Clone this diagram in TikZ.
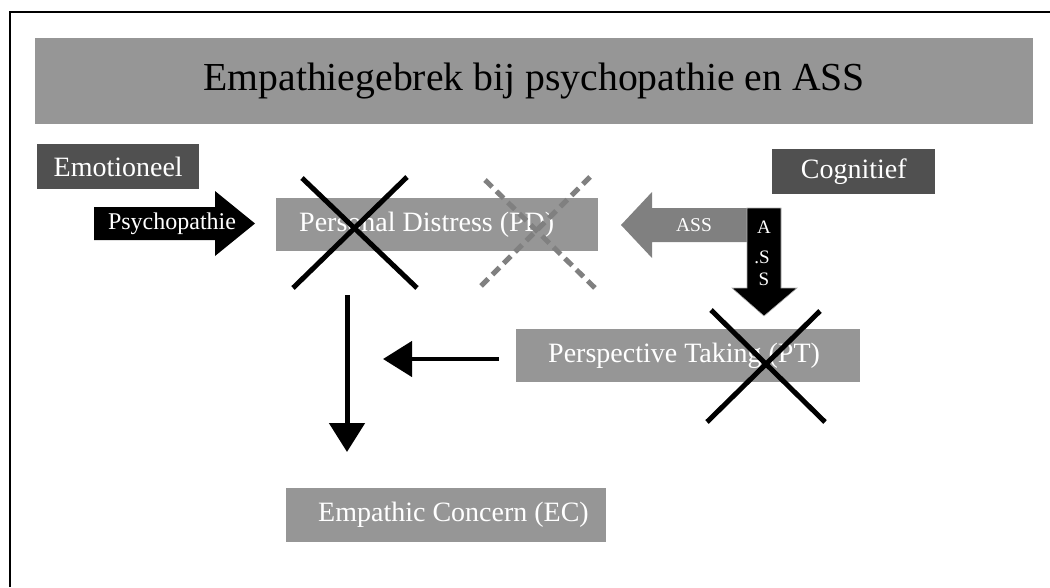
\documentclass[tikz,border=0pt]{standalone}
\usepackage{fontspec}
\setmainfont{Liberation Serif}
\usetikzlibrary{arrows.meta}
\definecolor{boxgray}{RGB}{150,150,150}
\definecolor{darkbox}{RGB}{80,80,80}
\definecolor{midgray}{RGB}{128,128,128}
\tikzset{
  graybox/.style={fill=boxgray, text=white, inner sep=0pt, anchor=north west},
  darkboxst/.style={fill=darkbox, text=white, inner sep=0pt, anchor=north west},
  crossline/.style={line width=5pt, black},
  dashcross/.style={line width=5pt, midgray, dash pattern=on 10pt off 6pt},
  flowarrow/.style={line width=5pt, -{Triangle[length=29pt,width=35pt]}},
  lbl/.style={text=white, inner sep=0pt},
}
\begin{document}
\begin{tikzpicture}[x=1pt,y=-1pt]
\useasboundingbox (0,0) rectangle (1050,587);
% frame
\draw[line width=2pt] (10,587) -- (10,12) -- (1051,12);
% title banner
\node[graybox, minimum width=998pt, minimum height=86pt, text=black,
  font=\fontsize{39.7}{44}\selectfont] (title) at (35,38) {Empathiegebrek bij psychopathie en ASS};
% category boxes
\node[darkboxst, minimum width=162pt, minimum height=45pt,
  font=\fontsize{28}{32}\selectfont] (emo) at (37,144) {Emotioneel};
\node[darkboxst, minimum width=163pt, minimum height=45pt,
  font=\fontsize{28}{32}\selectfont] (cog) at (772,149) {Cognitief};
% main boxes
\node[graybox, minimum height=53pt, font=\fontsize{28}{32}\selectfont]
  (pd) at (276,198) {\makebox[322pt][l]{\hspace*{23pt}Personal Distress (PD)}};
\node[graybox, minimum height=53pt, font=\fontsize{28}{32}\selectfont]
  (pt) at (516,329) {\makebox[344pt][l]{\hspace*{32pt}Perspective Taking (PT)}};
\node[graybox, minimum height=54pt, font=\fontsize{28}{32}\selectfont]
  (ec) at (286,488) {\makebox[320pt][l]{\hspace*{32pt}Empathic Concern (EC)}};
% Psychopathie block arrow
\fill[black] (94,207) -- (215,207) -- (215,191) -- (255,223.5) -- (215,256) -- (215,240) -- (94,240) -- cycle;
\node[lbl, font=\fontsize{24}{28}\selectfont] (psy) at (172,224) {Psychopathie};
% ASS gray block arrow
\fill[midgray] (747,208) -- (652,208) -- (652,192) -- (621,225) -- (652,258) -- (652,242) -- (747,242) -- cycle;
\node[lbl, font=\fontsize{19.5}{22}\selectfont] (assh) at (694,225) {ASS};
% ASS black down arrow
\filldraw[fill=black, draw=gray!60, line width=0.6pt] (747,208) -- (781,208) -- (781,288) -- (797,288) -- (764,316) -- (732,288) -- (747,288) -- cycle;
\node[lbl, font=\fontsize{19}{22}\selectfont] (a1) at (764,227) {A};
\node[lbl, font=\fontsize{19}{22}\selectfont] (a2) at (762,257) {.S};
\node[lbl, font=\fontsize{19}{22}\selectfont] (a3) at (764,279) {S};
% crosses
\draw[crossline] (302,178) -- (417,288);
\draw[crossline] (407,177) -- (293,288);
\draw[dashcross] (485,180) -- (595,288);
\draw[dashcross] (590,177) -- (480,287);
\draw[crossline] (711,310) -- (825,422);
\draw[crossline] (820,311) -- (707,422);
% flow arrows
\coordinate (vstart) at (347,295);
\coordinate (vend) at (347,452);
\coordinate (hstart) at (499,359);
\coordinate (hend) at (383,359);
\draw[flowarrow] (vstart) -- (vend);
\draw[flowarrow, line width=4.5pt] (hstart) -- (hend);
\end{tikzpicture}
\end{document}
